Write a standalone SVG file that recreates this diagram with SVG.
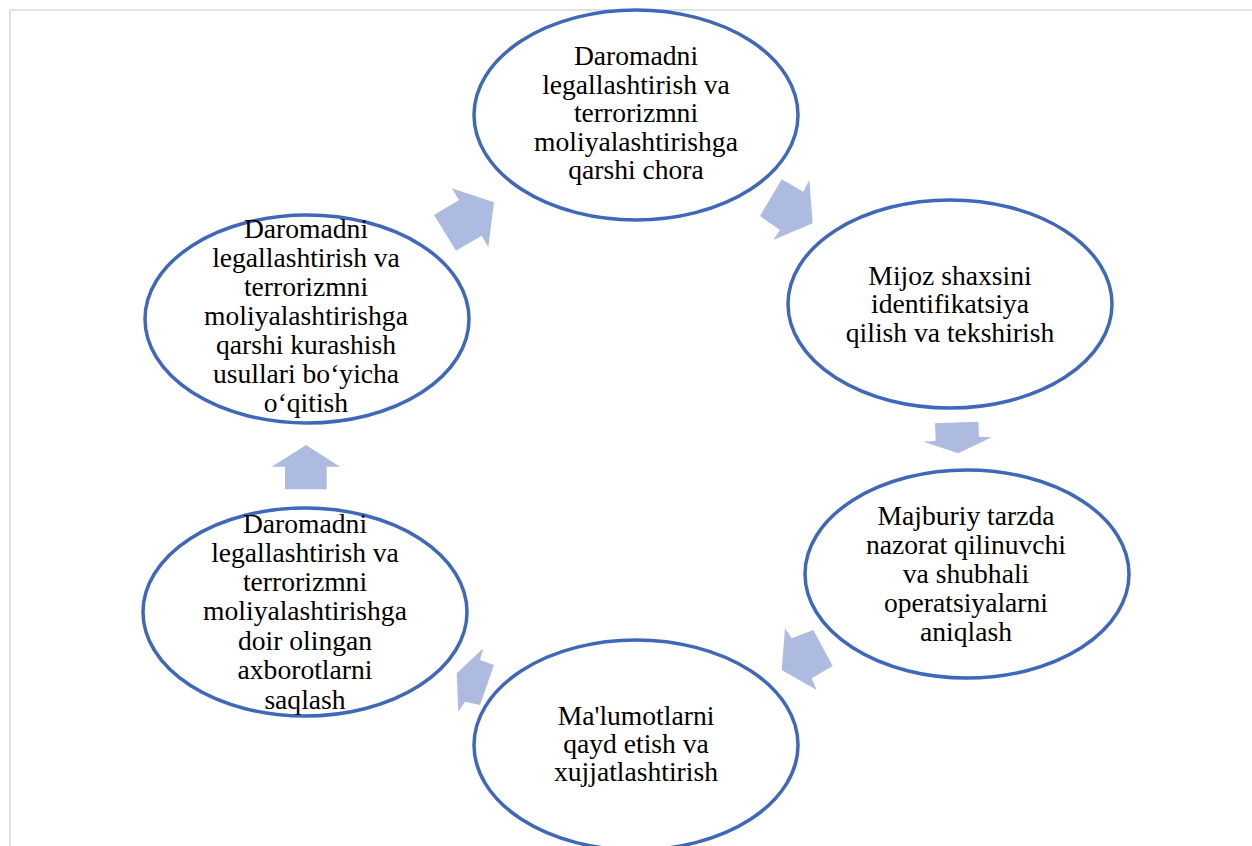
<svg xmlns="http://www.w3.org/2000/svg" width="1252" height="846" viewBox="0 0 1252 846">
  <style>
    .node ellipse { fill: #ffffff; stroke: #4068b8; stroke-width: 3.5; }
    .node text { font-family: "Liberation Serif", "Times New Roman", serif; font-size: 27.6px; fill: #000000; text-anchor: middle; }
    .arrow { fill: #aebbe0; stroke: none; }
    .frame { fill: none; stroke: #e2e2e2; stroke-width: 2; }
  </style>

  <rect width="1252" height="846" fill="#ffffff"/>
  <!-- page frame -->
  <path class="frame" d="M10,846 L10,10 L1252,10"/>

  <!-- cycle arrows -->
  <g id="connectors">
    <polygon class="arrow" points="434,215 459,200 451.7,188.3 494,202.3 488.3,247.3 481.7,235.7 456,250.7"/>
    <polygon class="arrow" points="760,216 781.7,179.3 803.3,191.7 809.3,180 812.7,223.3 773.3,240 780,230"/>
    <polygon class="arrow" points="935,423.3 978.3,421.7 979,436.7 991.7,437.3 958.3,453.3 923.3,441.7 935.7,440.7"/>
    <polygon class="arrow" points="785,628.3 791.7,638.3 813.3,630 832.7,666 811.7,678.3 816.7,690 781.7,670"/>
    <polygon class="arrow" points="483.3,648.3 480,660 494,665 480,705 465,701.7 458.3,711.7 456.7,673.3"/>
    <polygon class="arrow" points="306,445 340,466.7 326.7,466.7 326.7,489.3 285,489.3 285,466.7 271.7,466.7"/>
  </g>

  <g id="node-top" class="node">
    <ellipse cx="636" cy="115" rx="162" ry="105"/>
    <text x="636" y="65">Daromadni</text>
    <text x="636" y="93.5">legallashtirish va</text>
    <text x="636" y="122">terrorizmni</text>
    <text x="636" y="150.5">moliyalashtirishga</text>
    <text x="636" y="179">qarshi chora</text>
  </g>

  <g id="node-identify" class="node">
    <ellipse cx="950" cy="304" rx="162" ry="104"/>
    <text x="950" y="285">Mijoz shaxsini</text>
    <text x="950" y="313">identifikatsiya</text>
    <text x="950" y="342">qilish va tekshirish</text>
  </g>

  <g id="node-detect" class="node">
    <ellipse cx="967" cy="574" rx="162" ry="104"/>
    <text x="966" y="525">Majburiy tarzda</text>
    <text x="966" y="554">nazorat qilinuvchi</text>
    <text x="966" y="583">va shubhali</text>
    <text x="966" y="612">operatsiyalarni</text>
    <text x="966" y="641">aniqlash</text>
  </g>

  <g id="node-record" class="node">
    <ellipse cx="636" cy="745" rx="162" ry="105"/>
    <text x="636" y="725">Ma'lumotlarni</text>
    <text x="636" y="753">qayd etish va</text>
    <text x="636" y="781">xujjatlashtirish</text>
  </g>

  <g id="node-store" class="node">
    <ellipse cx="305" cy="612" rx="162" ry="104"/>
    <text x="305" y="533">Daromadni</text>
    <text x="305" y="562">legallashtirish va</text>
    <text x="305" y="591">terrorizmni</text>
    <text x="305" y="620">moliyalashtirishga</text>
    <text x="305" y="650">doir olingan</text>
    <text x="305" y="679">axborotlarni</text>
    <text x="305" y="709">saqlash</text>
  </g>

  <g id="node-training" class="node">
    <ellipse cx="307" cy="319" rx="162" ry="104"/>
    <text x="306" y="238">Daromadni</text>
    <text x="306" y="267">legallashtirish va</text>
    <text x="306" y="296">terrorizmni</text>
    <text x="306" y="325">moliyalashtirishga</text>
    <text x="306" y="354">qarshi kurashish</text>
    <text x="306" y="383">usullari bo‘yicha</text>
    <text x="306" y="412">o‘qitish</text>
  </g>
</svg>
